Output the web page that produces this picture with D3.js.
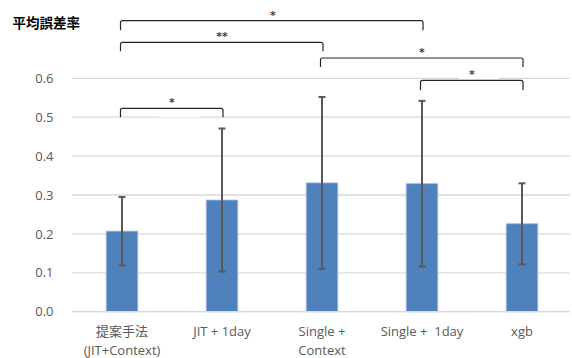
<!DOCTYPE html>
<html>
<head>
<meta charset="utf-8">
<script src="https://cdn.jsdelivr.net/npm/d3@7"></script>
<style>
  html, body { margin: 0; padding: 0; background: #fff; }
  svg { display: block; }
</style>
</head>
<body>
<svg id="chart" width="572" height="358"></svg>
<script>
// ---- data ----
const categories = ["提案手法\n(JIT+Context)", "JIT + 1day", "Single +\nContext", "Single +  1day", "xgb"];
const means = [0.207, 0.287, 0.331, 0.329, 0.226];
const errors = [0.088, 0.184, 0.221, 0.213, 0.104];
const yTicks = [0, 0.1, 0.2, 0.3, 0.4, 0.5, 0.6];
const yTickLabels = ["0.0", "0.1", "0.2", "0.3", "0.4", "0.5", "0.6"];
const sigFrom = [0, 0, 2, 3, 0];
const sigTo = [3, 2, 4, 4, 1];
const sigLabels = ["*", "**", "*", "*", "*"];
const yTitle = "平均誤差率";

// ---- layout ----
const W = 572, H = 358;
const plot = { left: 72, right: 572, top: 78.3, bottom: 311.7 };
const bracketY = [20.7, 42.3, 58, 80.3, 108.3];   // pixel heights of brackets
const bracketDrop = [9.5, 9, 9, 10, 9];
const svg = d3.select("#chart");
const fontLatin = "'Open Sans', 'Noto Sans CJK JP', sans-serif";

const x = d3.scaleBand().domain(d3.range(categories.length)).range([plot.left, plot.right]).padding(0);
const y = d3.scaleLinear().domain([0, 0.6]).range([plot.bottom, plot.top]);
const cx = i => x(i) + x.bandwidth() / 2;
const barW = 31.5;

// gridlines
svg.append("g").selectAll("line").data(yTicks).join("line")
  .attr("x1", plot.left).attr("x2", plot.right - 2)
  .attr("y1", d => y(d)).attr("y2", d => y(d))
  .attr("stroke", "#d9d9d9").attr("stroke-width", 1.3);

// y-axis labels via d3 axis
const yAxis = d3.axisLeft(y).tickValues(yTicks).tickFormat((d, i) => yTickLabels[i]).tickSize(0).tickPadding(0);
const ga = svg.append("g").attr("transform", `translate(${53.5},0)`).call(yAxis);
ga.select(".domain").remove();
ga.selectAll("text").attr("fill", "#595959").style("font-family", fontLatin).style("font-size", "13px");

// star boxes (white text backgrounds covering gridlines)
const starX = sigFrom.map((a, i) => (cx(a) + cx(sigTo[i])) / 2 - (i === 0 ? -1 : 0));
svg.append("g").selectAll("rect").data(sigLabels).join("rect")
  .attr("x", (d, i) => starX[i] - 13).attr("width", 40)
  .attr("y", (d, i) => bracketY[i] - 22).attr("height", 31)
  .attr("fill", "#fff");

// bars
svg.append("g").selectAll("rect").data(means).join("rect")
  .attr("x", (d, i) => cx(i) - barW / 2).attr("width", barW)
  .attr("y", d => y(d)).attr("height", d => y(0) - y(d))
  .attr("fill", "#4f81bd").attr("stroke", "#9ab6db").attr("stroke-width", 0.8);

// baseline
svg.append("line").attr("x1", plot.left).attr("x2", plot.right - 2)
  .attr("y1", y(0)).attr("y2", y(0)).attr("stroke", "#d9d9d9").attr("stroke-width", 1.3);

// error bars
const eg = svg.append("g").attr("stroke", "#595959").attr("stroke-width", 2);
means.forEach((m, i) => {
  const c = cx(i);
  eg.append("line").attr("x1", c).attr("x2", c).attr("y1", y(m - errors[i])).attr("y2", y(m + errors[i]));
  eg.append("line").attr("x1", c - 3.5).attr("x2", c + 3.5).attr("y1", y(m - errors[i])).attr("y2", y(m - errors[i]));
  eg.append("line").attr("x1", c - 3.5).attr("x2", c + 3.5).attr("y1", y(m + errors[i])).attr("y2", y(m + errors[i]));
});

// brackets
const bg = svg.append("g").attr("fill", "none").attr("stroke", "#262626").attr("stroke-width", 1.2);
sigLabels.forEach((lab, i) => {
  const x1 = cx(sigFrom[i]) - 1.5, x2 = cx(sigTo[i]) + 1;
  const yb = bracketY[i], yd = yb + bracketDrop[i], r = 2;
  const p = d3.path();
  p.moveTo(x1, yd); p.lineTo(x1, yb + r); p.quadraticCurveTo(x1, yb, x1 + r, yb);
  p.lineTo(x2 - r, yb); p.quadraticCurveTo(x2, yb, x2, yb + r); p.lineTo(x2, yd);
  bg.append("path").attr("d", p.toString());
});

// star labels
svg.append("g").selectAll("text").data(sigLabels).join("text")
  .attr("x", (d, i) => starX[i]).attr("y", (d, i) => bracketY[i] - 2)
  .attr("text-anchor", "middle").attr("fill", "#404040")
  .style("font-family", "'DejaVu Sans', sans-serif").style("font-size", "11px").style("font-weight", "bold")
  .text(d => d);

// x labels
const xl = svg.append("g");
categories.forEach((c, i) => {
  const lines = c.split("\n");
  const t = xl.append("text").attr("text-anchor", "middle").attr("fill", "#595959")
    .style("font-family", fontLatin).style("font-size", "13px");
  lines.forEach((ln, k) => {
    t.append("tspan").attr("x", cx(i)).attr("y", 336 + k * 18.5).attr("xml:space", "preserve").text(ln);
  });
});

// y title
svg.append("text").attr("x", 12.5).attr("y", 27.5).attr("fill", "#000")
  .style("font-family", "'Noto Sans CJK JP', sans-serif").style("font-size", "13.5px").style("font-weight", "bold")
  .text(yTitle);
</script>
</body>
</html>
